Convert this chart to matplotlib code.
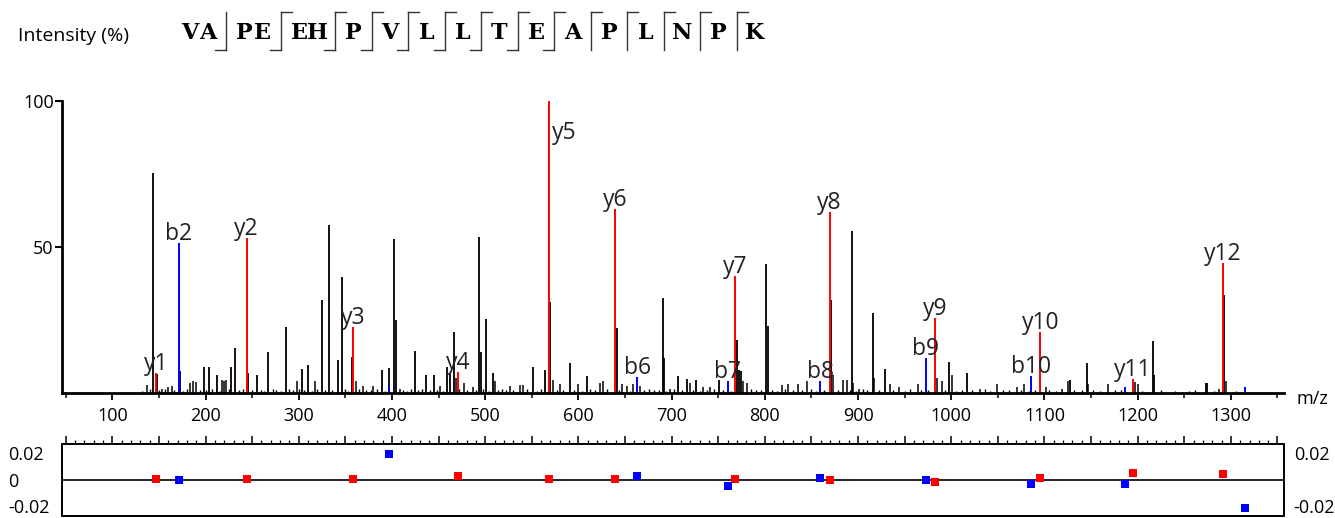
import matplotlib
matplotlib.use("Agg")
import matplotlib.pyplot as plt
from matplotlib.lines import Line2D
from matplotlib.ticker import MultipleLocator

plt.rcParams['font.family'] = ['Open Sans', 'DejaVu Sans']

W, H = 1335, 518

# Peptidsequenz, Gruppen wie im Kopf dargestellt
seq_groups = ["VA", "PE", "EH", "P", "V", "L", "L", "T", "E", "A", "P", "L", "N", "P", "K"]
# Schnittmarken nach jeder Gruppe: b-Ion (unten links), y-Ion (oben rechts)
cut_b = [True, True, True, True, True, True, True, True, True, False, False, False, False, False]
cut_y = [False, True, True, True, True, True, True, True, True, True, True, True, True, True]

# y-Ionen
y_names = ["y1", "y2", "y3", "y4", "y5", "y6", "y7", "y8", "y9", "y10", "y11", "y12"]
y_mz = [147.11, 244.17, 358.21, 471.29, 568.35, 639.38, 768.43, 869.47, 982.56, 1095.64, 1194.71, 1291.76]
y_int = [6.7, 53.0, 22.5, 7.1, 100.0, 63.0, 40.0, 62.0, 25.8, 20.8, 4.8, 44.4]
y_err = [0.0005, 0.0003, 0.0002, 0.0027, 0.0002, 0.0003, 0.0005, 0.0, -0.0018, 0.001, 0.005, 0.0043]

# b-Ionen
b_names = ["b2", "b4", "b6", "b7", "b8", "b9", "b10", "b11", "b12"]
b_mz = [171.11, 397.21, 663.31, 760.36, 859.43, 972.51, 1085.60, 1186.65, 1315.69]
b_int = [51.5, 2.5, 5.6, 4.2, 4.0, 11.9, 5.7, 2.0, 2.0]
b_err = [-0.0005, 0.0195, 0.0027, -0.0048, 0.001, -0.0003, -0.0035, -0.0035, -0.0218]
b_show = [True, False, True, True, True, True, True, False, False]

# nicht zugeordnete Peaks (schwarz)
other_mz = [143.9, 147.5, 172.3, 198.6, 204.0, 211.9, 227.3, 231.5, 245.2, 255.0,
            267.3, 285.9, 303.1, 310.2, 325.2, 332.7, 342.4, 346.0, 357.4, 388.9,
            396.8, 402.5, 403.8, 424.4, 436.5, 445.4, 458.7, 462.2, 466.2, 493.7,
            495.2, 500.9, 508.7, 551.6, 564.5, 569.5, 591.0, 609.5, 641.1, 690.5,
            691.5, 707.2, 716.2, 725.9, 751.2, 769.8, 771.8, 774.0, 801.0, 803.8,
            871.0, 893.6, 915.8, 929.0, 998.0, 1016.6, 1127.3, 1146.0, 1216.8, 1217.9,
            1273.0, 1274.5, 1293.1]
other_int = [75.3, 6.5, 7.5, 9.0, 9.0, 6.0, 9.0, 15.3, 7.0, 6.0,
             13.9, 22.7, 8.2, 9.6, 31.8, 57.5, 11.3, 39.6, 12.4, 7.9,
             8.7, 52.7, 25.0, 14.5, 6.0, 6.0, 9.0, 6.5, 20.8, 53.3,
             14.0, 25.2, 7.0, 9.0, 8.0, 31.3, 10.2, 5.7, 22.4, 32.4,
             12.0, 5.7, 4.8, 4.5, 4.5, 18.2, 8.0, 7.5, 44.2, 22.8,
             31.8, 55.6, 27.5, 8.2, 10.5, 7.0, 4.5, 10.2, 17.9, 6.0,
             3.5, 3.5, 33.6]

# kleine Peaks
small_mz = [136.8, 152.9, 159.7, 163.6, 183.0, 187.0, 190.0, 217.6, 220.0, 222.0,
            297.7, 317.4, 361.0, 368.6, 380.0, 408.6, 451.5, 468.3, 477.3, 487.2,
            510.5, 526.6, 537.3, 540.2, 573.0, 580.3, 600.0, 623.2, 626.4, 646.5,
            652.0, 658.9, 666.1, 698.3, 719.7, 734.0, 741.2, 776.9, 780.5, 818.1,
            825.2, 836.0, 845.0, 873.5, 883.6, 887.9, 895.0, 901.4, 917.2, 934.4,
            944.0, 964.7, 985.0, 989.8, 1000.5, 1031.0, 1048.8, 1070.3, 1078.1, 1101.7,
            1118.6, 1125.6, 1147.0, 1168.6, 1197.2, 1200.8, 1287.7, 1294.8]
small_int = [2.7, 1.5, 2.0, 2.5, 3.5, 4.0, 3.8, 4.5, 4.0, 4.5,
             4.0, 4.0, 4.0, 2.5, 2.5, 1.5, 2.5, 5.0, 3.5, 2.0,
             4.0, 2.5, 2.8, 2.8, 4.5, 3.0, 3.0, 3.5, 4.0, 3.0,
             2.5, 3.0, 2.5, 1.5, 3.5, 2.0, 2.0, 4.0, 3.5, 2.8,
             3.0, 3.2, 4.0, 6.0, 4.5, 4.5, 3.5, 1.5, 5.0, 3.0,
             2.0, 3.0, 5.0, 4.0, 6.0, 1.5, 3.0, 2.0, 3.0, 2.0,
             1.5, 4.0, 3.0, 3.0, 3.8, 3.2, 1.5, 4.0]

# Grundrauschen
noise_mz = [132, 140, 150, 156, 166, 176, 180, 194, 201, 207, 215, 225, 236, 240, 250,
            259, 263, 272, 276, 281, 290, 294, 300, 306, 314, 320, 328, 336, 350, 353,
            365, 372, 377, 384, 392, 412, 416, 420, 428, 432, 441, 448, 455, 472, 481,
            490, 498, 504, 514, 518, 522, 530, 545, 556, 560, 577, 584, 595, 604, 612,
            618, 631, 644, 655, 670, 676, 681, 686, 694, 703, 711, 723, 730, 738, 745,
            755, 764, 785, 791, 796, 808, 813, 822, 830, 840, 850, 855, 864, 878, 891,
            898, 905, 910, 922, 938, 950, 956, 968, 975, 993, 1005, 1012, 1022, 1036, 1042,
            1055, 1062, 1075, 1083, 1090, 1105, 1112, 1132, 1140, 1152, 1160, 1176, 1182, 1205, 1225,
            1240, 1255, 1262, 1282, 1305]
noise_int = [0.8, 1.2, 0.9, 1.4, 1.0, 0.7, 1.3, 1.1, 0.9, 1.5, 0.8, 1.2, 1.0, 1.4, 0.9,
             1.1, 0.7, 1.3, 1.0, 0.8, 1.4, 0.9, 1.2, 1.0, 0.8, 1.3, 1.1, 0.9, 1.2, 0.8,
             1.4, 1.0, 0.9, 1.3, 0.7, 1.1, 0.8, 1.2, 1.0, 1.3, 0.9, 1.1, 0.8, 1.4, 1.0,
             0.9, 1.2, 0.8, 1.1, 1.3, 0.9, 1.0, 1.2, 0.8, 1.4, 0.9, 1.1, 1.0, 0.8, 1.3,
             0.9, 1.2, 1.0, 0.8, 1.1, 1.3, 0.9, 1.0, 0.7, 1.2, 0.9, 1.1, 0.8, 1.0, 1.3,
             0.9, 0.8, 1.2, 1.0, 0.9, 1.1, 0.8, 1.3, 0.9, 1.0, 1.2, 0.8, 1.1, 0.9, 1.0,
             0.8, 1.2, 0.9, 1.1, 1.0, 0.8, 1.2, 0.9, 1.0, 1.1, 0.8, 1.0, 0.9, 1.2, 0.8,
             1.0, 0.9, 1.1, 0.8, 1.0, 0.9, 0.8, 1.1, 0.9, 1.0, 0.8, 0.9, 1.0, 0.8, 0.9,
             0.8, 0.7, 0.9, 0.7, 0.6]

RED = '#ff0000'
BLUE = '#0000ff'

fig = plt.figure(figsize=(W / 100, H / 100), dpi=100)

# Hauptspektrum
ax = fig.add_axes([62 / W, 1 - 393 / H, (1284 - 62) / W, (393 - 101) / H])
ax.vlines(noise_mz, 0, noise_int, color='black', lw=1.0)
ax.vlines(small_mz, 0, small_int, color='black', lw=1.1)
ax.vlines(other_mz, 0, other_int, color='black', lw=1.3)
ax.vlines(y_mz, 0, y_int, color=RED, lw=1.4)
ax.vlines(b_mz, 0, b_int, color=BLUE, lw=1.4)

ax.set_xlim(46, 1357)
ax.set_ylim(0, 100)
for s in ['top', 'right']:
    ax.spines[s].set_visible(False)
for s in ['left', 'bottom']:
    ax.spines[s].set_linewidth(2.0)
ax.set_yticks([50, 100])
ax.tick_params(axis='y', length=5, width=1.5, pad=1, labelsize=13)
ax.xaxis.set_major_locator(MultipleLocator(100))
ax.xaxis.set_minor_locator(MultipleLocator(50))
ax.tick_params(axis='x', which='major', length=5, width=1.3, pad=5, labelsize=13)
ax.tick_params(axis='x', which='minor', length=3.5, width=1.1)

# Ionenbeschriftung
lab_kw = dict(textcoords='offset pixels', ha='center', va='baseline', fontsize=16.5, color='#222222')
for name, mz, inten in zip(y_names, y_mz, y_int):
    if inten >= 99:
        ax.annotate(name, (mz, inten), xytext=(3, -38), ha='left', va='baseline',
                    textcoords='offset pixels', fontsize=16.5, color='#222222')
    else:
        ax.annotate(name, (mz, inten), xytext=(0, 3), **lab_kw)
for name, mz, inten, show in zip(b_names, b_mz, b_int, b_show):
    if show:
        ax.annotate(name, (mz, inten), xytext=(0, 3), **lab_kw)

ax.annotate("m/z", (1, 0), xycoords='axes fraction', xytext=(13, -6),
            textcoords='offset pixels', ha='left', va='center', fontsize=13)

# Fehlerpanel
ax2 = fig.add_axes([62 / W, 1 - 516 / H, (1284 - 62) / W, (516 - 444) / H])
ax2.set_xlim(46, 1357)
ax2.set_ylim(-0.0275, 0.027)
ax2.axhline(0, color='black', lw=1.2)
ax2.scatter(y_mz, y_err, marker='s', s=30, color=RED, zorder=3, linewidths=0)
ax2.scatter(b_mz, b_err, marker='s', s=30, color=BLUE, zorder=3, linewidths=0)
for s in ax2.spines.values():
    s.set_linewidth(1.4)
ax2.xaxis.set_major_locator(MultipleLocator(50))
ax2.xaxis.set_minor_locator(MultipleLocator(10))
ax2.tick_params(axis='x', which='both', top=True, bottom=False, labelbottom=False, direction='out')
ax2.tick_params(axis='x', which='major', length=6, width=1.1)
ax2.tick_params(axis='x', which='minor', length=3, width=0.9)
ax2.set_yticks([-0.02, 0, 0.02])
ax2.set_yticklabels(['-0.02', '0', '0.02'])
ax2.tick_params(axis='y', length=0, pad=39, labelsize=13)
for t in ax2.get_yticklabels():
    t.set_horizontalalignment('left')

ax3 = ax2.twinx()
ax3.set_ylim(ax2.get_ylim())
ax3.set_yticks([-0.02, 0.02])
ax3.set_yticklabels(['-0.02', '0.02'])
ax3.tick_params(axis='y', length=0, pad=7, labelsize=13)
for s in ax3.spines.values():
    s.set_visible(False)

# Kopfzeile
fig.text(18 / W, 1 - 36 / H, "Intensity (%)", ha='left', va='center', fontsize=14)

cell = 18.0
slot = 18.5
x = 181.0
y_mid = 33
y_top, y_bot = 12, 50
hook = 11
for i, grp in enumerate(seq_groups):
    for j, ch in enumerate(grp):
        fig.text((x + (j + 0.5) * cell) / W, 1 - y_mid / H, ch, ha='center', va='center',
                 fontsize=16, fontweight='bold', family='DejaVu Serif', color='black')
    x += len(grp) * cell
    if i < len(cut_b):
        xm = x + slot / 2
        fig.add_artist(Line2D([xm / W, xm / W], [1 - y_top / H, 1 - y_bot / H],
                              transform=fig.transFigure, color='#333333', lw=1.0))
        if cut_b[i]:
            fig.add_artist(Line2D([(xm - hook) / W, xm / W], [1 - y_bot / H, 1 - y_bot / H],
                                  transform=fig.transFigure, color='#333333', lw=1.0))
        if cut_y[i]:
            fig.add_artist(Line2D([xm / W, (xm + hook) / W], [1 - y_top / H, 1 - y_top / H],
                                  transform=fig.transFigure, color='#333333', lw=1.0))
        x += slot

fig.savefig("out.png", dpi=100)
